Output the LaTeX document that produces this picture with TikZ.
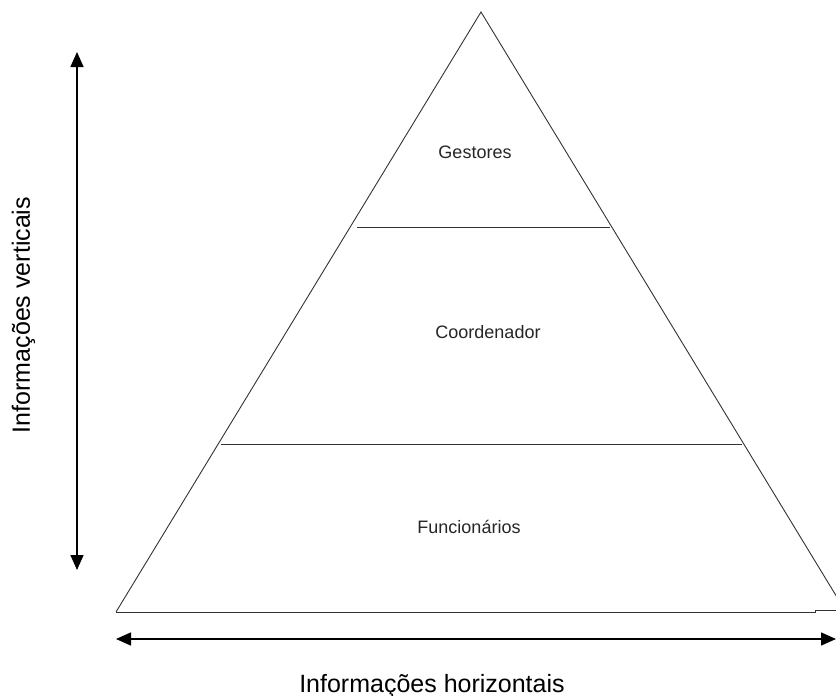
\documentclass[tikz,border=0pt]{standalone}
\usepackage{fontspec}
\setmainfont{Liberation Sans}
\usetikzlibrary{arrows.meta}
\begin{document}
\begin{tikzpicture}[x=1pt,y=-1pt,
  edge/.style={draw=black!80, line width=0.9pt},
  level/.style={font=\fontsize{18}{21}\selectfont, text=black!85, inner sep=0pt},
  axislabel/.style={font=\fontsize{25}{29}\selectfont, text=black, inner sep=0pt},
  axisarrow/.style={draw=black, line width=1.5pt, {Triangle[length=15pt,width=13pt]}-{Triangle[length=15pt,width=13pt]}}]
  \fill[white] (0,0) rectangle (836,696);
  \useasboundingbox (0,0) rectangle (836,696);
  \clip (0,0) rectangle (836,696);

  % pyramid corners
  \coordinate (apex) at (481,12);
  \coordinate (bl) at (116,612);
  \coordinate (br) at (846,612);
  \coordinate (bstep) at (815,612);
  \coordinate (bstepup) at (815,610);
  \coordinate (bend) at (836,610);

  % tier dividers
  \coordinate (t1l) at (357,227);
  \coordinate (t1r) at (610,227);
  \coordinate (t2l) at (221,444);
  \coordinate (t2r) at (742,444);

  % outline of the pyramid
  \draw[edge] (bl) -- (apex) -- (br);
  \draw[edge] (bl) -- (bstep) -- (bstepup) -- (bend);
  \draw[edge] (t1l) -- (t1r);
  \draw[edge] (t2l) -- (t2r);

  % tier names
  \node[level] (gest) at (475,152) {Gestores};
  \node[level] (coord) at (488,332) {Coordenador};
  \node[level] (func) at (469,527) {Funcionários};

  % axis arrows
  \coordinate (vtop) at (77,52);
  \coordinate (vbot) at (77,570);
  \coordinate (hleft) at (116,639);
  \coordinate (hright) at (836,639);
  \draw[axisarrow] (vbot) -- (vtop);
  \draw[axisarrow] (hleft) -- (hright);

  % axis labels
  \node[axislabel, anchor=base] (hlab) at (432,692) {Informações horizontais};
  \node[axislabel, anchor=base, rotate=90] (vlab) at (30,315) {Informações verticais};
\end{tikzpicture}
\end{document}
